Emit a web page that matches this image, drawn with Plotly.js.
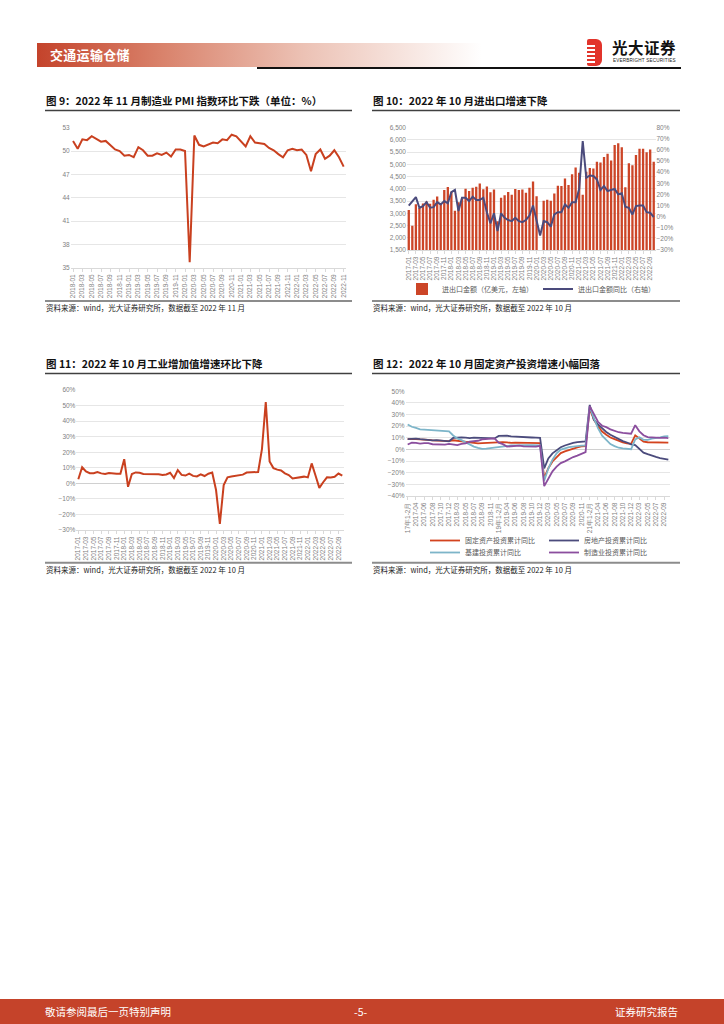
<!DOCTYPE html>
<html>
<head>
<meta charset="utf-8">
<script src="https://cdn.plot.ly/plotly-3.0.1.min.js"></script>
<style>
html,body{margin:0;padding:0;background:#fff;}
#page{position:relative;width:724px;height:1024px;overflow:hidden;font-family:"Noto Sans CJK SC","Noto Sans",sans-serif;background:#fff;}
#chart{position:absolute;left:0;top:0;width:724px;height:1024px;}
#hdrbar{position:absolute;left:37px;top:43px;width:445px;height:24px;background:linear-gradient(to right,#C4432B 0%,#D9826B 28%,#ECC2B5 60%,#FFFFFF 100%);}
#hdrtext{position:absolute;left:50px;top:43px;height:24px;line-height:24px;color:#fff;font-size:13px;font-weight:bold;letter-spacing:0.3px;}
#hdrline{position:absolute;left:257px;top:67px;width:424px;height:1.5px;background:#111;}
#logo{position:absolute;left:587px;top:39px;width:15px;height:27px;background:#E2342B;border-radius:2px 6px 6px 2px;overflow:hidden;}
.stripe{position:absolute;left:0;width:8px;height:1.6px;background:#fff;}
#logocn{position:absolute;left:612px;top:39px;height:17px;line-height:17px;font-size:15.5px;font-weight:bold;color:#111;letter-spacing:0.5px;}
#logoen{position:absolute;left:613px;top:58px;height:6px;line-height:6px;font-family:"Liberation Sans",Arial,sans-serif;font-size:4.6px;color:#222;letter-spacing:0.2px;}
#ftr{position:absolute;left:0;top:999px;width:724px;height:25px;background:#C5432A;color:#fff;font-size:10.5px;}
#ftr span{position:absolute;top:0;line-height:25px;}
</style>
</head>
<body>
<div id="page">
  <div id="chart"></div>
  <div id="hdrbar"></div>
  <div id="hdrtext">交通运输仓储</div>
  <div id="hdrline"></div>
  <div id="logo">
    <div class="stripe" style="top:6px"></div>
    <div class="stripe" style="top:10px"></div>
    <div class="stripe" style="top:14px"></div>
    <div class="stripe" style="top:18px"></div>
    <div class="stripe" style="top:22px"></div>
  </div>
  <div id="logocn">光大证券</div>
  <div id="logoen">EVERBRIGHT SECURITIES</div>
  <div id="ftr">
    <span style="left:45px">敬请参阅最后一页特别声明</span>
    <span style="left:354px">-5-</span>
    <span style="right:46px">证券研究报告</span>
  </div>
</div>
<script>
// ---------- Chart 9: manufacturing PMI ----------
const pmiMonths = [
"2018-01","2018-02","2018-03","2018-04","2018-05","2018-06","2018-07","2018-08","2018-09","2018-10","2018-11","2018-12",
"2019-01","2019-02","2019-03","2019-04","2019-05","2019-06","2019-07","2019-08","2019-09","2019-10","2019-11","2019-12",
"2020-01","2020-02","2020-03","2020-04","2020-05","2020-06","2020-07","2020-08","2020-09","2020-10","2020-11","2020-12",
"2021-01","2021-02","2021-03","2021-04","2021-05","2021-06","2021-07","2021-08","2021-09","2021-10","2021-11","2021-12",
"2022-01","2022-02","2022-03","2022-04","2022-05","2022-06","2022-07","2022-08","2022-09","2022-10","2022-11"];
const pmiValues = [
51.3,50.3,51.5,51.4,51.9,51.5,51.2,51.3,50.8,50.2,50.0,49.4,
49.5,49.2,50.5,50.1,49.4,49.4,49.7,49.5,49.8,49.3,50.2,50.2,
50.0,35.7,52.0,50.8,50.6,50.9,51.1,51.0,51.5,51.4,52.1,51.9,
51.3,50.6,51.9,51.1,51.0,50.9,50.4,50.1,49.6,49.2,50.1,50.3,
50.1,50.2,49.5,47.4,49.6,50.2,49.0,49.4,50.1,49.2,48.0];

// ---------- Chart 10: trade ----------
const tradeMonths = [
"2017-01","2017-02","2017-03","2017-04","2017-05","2017-06","2017-07","2017-08","2017-09","2017-10","2017-11","2017-12",
"2018-01","2018-02","2018-03","2018-04","2018-05","2018-06","2018-07","2018-08","2018-09","2018-10","2018-11","2018-12",
"2019-01","2019-02","2019-03","2019-04","2019-05","2019-06","2019-07","2019-08","2019-09","2019-10","2019-11","2019-12",
"2020-01","2020-02","2020-03","2020-04","2020-05","2020-06","2020-07","2020-08","2020-09","2020-10","2020-11","2020-12",
"2021-01","2021-02","2021-03","2021-04","2021-05","2021-06","2021-07","2021-08","2021-09","2021-10","2021-11","2021-12",
"2022-01","2022-02","2022-03","2022-04","2022-05","2022-06","2022-07","2022-08","2022-09","2022-10"];
const tradeAmount = [
3140,2495,3370,3215,3400,3480,3390,3555,3690,3380,3950,4080,
3880,3100,3450,3600,4000,3915,4050,4090,4220,3980,4100,3860,
3970,2680,3640,3740,3870,3760,3990,3950,3970,3840,4050,4300,
3700,null,3510,3550,3510,3810,4130,4120,4420,4160,4600,4870,
4660,3760,4700,4850,4830,5110,5080,5300,5440,5160,5790,5860,
5700,4070,5050,4960,5380,5640,5640,5500,5610,5110];
const tradeYoY = [
10,14,17.5,8,9.5,13,8,8.5,13,11,14,12,
22,24,5,17,17,14,18,15,15,17,4,-6,
3,-13,3,-1,-3,-4,-1,-4,-5,-3,1,10,
-5,-17,-4,-5,-9,2,4,4,11,8,13,13,
25,68,35,37,36.5,33.5,24,27.5,23,24,25,20,
21,9,8,2,9.5,10,10,4,3.5,-0.5];

// ---------- Chart 11: industrial value added ----------
const ivaMonths = tradeMonths;
const ivaYoY = [
2.6,10.3,7.6,6.5,6.5,7.2,6.4,6.0,6.6,6.2,6.1,6.2,
15.5,-2.2,6.0,7.0,6.8,6.0,6.0,6.1,5.8,5.9,5.4,5.7,
6.8,3.4,8.5,5.4,5.0,6.3,4.8,4.4,5.8,4.7,6.2,6.9,
-4.3,-26.0,-1.1,3.9,4.4,4.8,4.8,5.6,6.9,6.9,7.0,7.3,
22.0,52.3,14.1,9.8,8.8,8.3,6.4,5.3,3.1,3.5,3.8,4.3,
3.8,12.8,5.0,-2.9,0.7,3.9,3.8,4.2,6.3,5.0];

// ---------- Chart 12: fixed asset investment ----------
const faiPeriods = [
"17年1-2月","2017-03","2017-04","2017-05","2017-06","2017-07","2017-08","2017-09","2017-10","2017-11","2017-12",
"18年1-2月","2018-03","2018-04","2018-05","2018-06","2018-07","2018-08","2018-09","2018-10","2018-11","2018-12",
"19年1-2月","2019-03","2019-04","2019-05","2019-06","2019-07","2019-08","2019-09","2019-10","2019-11","2019-12",
"20年1-2月","2020-03","2020-04","2020-05","2020-06","2020-07","2020-08","2020-09","2020-10","2020-11","2020-12",
"21年1-2月","2021-03","2021-04","2021-05","2021-06","2021-07","2021-08","2021-09","2021-10","2021-11","2021-12",
"22年1-2月","2022-03","2022-04","2022-05","2022-06","2022-07","2022-08","2022-09","2022-10"];
const faiTotal = [
8.9,9.2,8.9,8.6,8.6,8.3,7.8,7.5,7.3,7.2,7.2,
7.9,7.5,7.0,6.1,6.0,5.5,5.3,5.4,5.7,5.9,5.9,
6.1,6.3,6.1,5.6,5.8,5.7,5.5,5.4,5.2,5.2,5.4,
-24.5,-16.1,-10.3,-6.3,-3.1,-1.6,-0.3,0.8,1.8,2.6,2.9,
35.0,25.6,19.9,15.4,12.6,10.3,8.9,7.3,6.1,5.2,4.9,
12.2,9.3,6.8,6.2,6.1,5.7,5.8,5.9,5.8];
const faiRealEstate = [
8.9,9.1,9.3,8.8,8.5,7.9,7.9,8.1,7.8,7.5,7.0,
9.9,10.4,10.3,10.2,9.7,10.2,10.1,9.9,9.7,9.7,9.5,
11.6,11.8,11.9,11.2,10.9,10.6,10.5,10.5,10.3,10.2,9.9,
-16.3,-7.7,-3.3,-0.3,1.9,3.4,4.6,5.6,6.3,6.8,7.0,
38.3,25.6,21.6,18.3,15.0,12.7,10.9,8.8,7.2,6.0,4.4,
3.7,0.7,-2.7,-4.0,-5.4,-6.4,-7.4,-8.0,-8.8];
const faiInfra = [
21.5,19.5,18.5,17.3,17.0,16.8,16.5,16.2,16.0,16.0,15.5,
12.0,9.5,8.0,6.0,4.5,2.5,1.3,0.5,0.8,1.3,1.8,
2.5,3.0,3.3,3.5,3.6,3.8,3.8,3.8,3.7,3.6,3.5,
-26.9,-16.4,-8.8,-3.3,-0.1,1.2,2.0,2.4,3.0,3.3,3.4,
36.6,26.8,18.4,11.8,7.8,4.6,2.9,1.5,1.0,0.5,0.2,
8.6,10.5,8.3,8.2,9.3,9.6,10.4,11.2,11.4];
const faiManufacturing = [
4.3,5.8,5.6,5.1,5.5,5.5,4.5,4.2,4.1,4.1,4.8,
4.3,3.8,4.8,5.2,6.8,7.3,7.5,8.7,9.1,9.5,9.5,
5.9,4.6,2.5,2.7,3.0,3.3,2.6,2.5,2.6,2.5,3.1,
-31.5,-25.2,-18.8,-14.8,-11.7,-10.2,-8.1,-6.5,-5.3,-3.5,-2.2,
37.3,29.8,23.8,20.4,19.2,17.3,15.7,14.8,14.2,13.7,13.5,
20.9,15.6,12.2,10.6,10.4,9.9,10.0,10.1,9.7];

// ---------- styling ----------
const RED = '#C9401F', NAVY = '#4B4B7C', LBLUE = '#7DB5C9', PURPLE = '#8B4E9E';
const tickFont = {family:'Liberation Sans, Arial, sans-serif', size:6.5, color:'#7f7f7f'};
const W = 724, H = 1024;
const px = v => v / W;
const py = v => 1 - v / H;

function catAxis(cats, x0, x1, anchor) {
  return {
    domain:[px(x0), px(x1)], anchor, type:'category',
    range:[-0.5, cats.length - 0.5],
    tickmode:'array',
    tickvals: cats.filter((c, i) => i % 2 === 0),
    ticktext: cats.filter((c, i) => i % 2 === 0),
    tickangle:-90, tickfont:tickFont,
    showgrid:false, showline:true, linecolor:'#d9d9d9', linewidth:1,
    ticks:'outside', ticklen:3, tickcolor:'#d9d9d9',
    automargin:false, fixedrange:true
  };
}
function valAxis(y0, y1, anchor, range, dtick, extra) {
  return Object.assign({
    domain:[py(y1), py(y0)], anchor, range, dtick, tick0:range[0],
    tickfont:tickFont, showgrid:true, gridcolor:'#e6e6e6', gridwidth:1,
    zeroline:false, showline:false, ticks:'', automargin:false, fixedrange:true
  }, extra || {});
}

const traces = [
  {type:'scatter', mode:'lines', x:pmiMonths, y:pmiValues, xaxis:'x', yaxis:'y',
   line:{color:RED, width:2}, showlegend:false, name:'制造业PMI'},
  {type:'bar', x:tradeMonths, y:tradeAmount, xaxis:'x2', yaxis:'y2',
   marker:{color:'#CC4527'}, name:'进出口金额（亿美元，左轴）', legend:'legend'},
  {type:'scatter', mode:'lines', x:tradeMonths, y:tradeYoY, xaxis:'x2', yaxis:'y3',
   line:{color:NAVY, width:2}, name:'进出口金额同比（右轴）', legend:'legend'},
  {type:'scatter', mode:'lines', x:ivaMonths, y:ivaYoY, xaxis:'x3', yaxis:'y4',
   line:{color:RED, width:2}, showlegend:false, name:'工业增加值同比'},
  {type:'scatter', mode:'lines', x:faiPeriods, y:faiTotal, xaxis:'x4', yaxis:'y5',
   line:{color:'#D3431E', width:1.8}, name:'固定资产投资累计同比', legend:'legend2'},
  {type:'scatter', mode:'lines', x:faiPeriods, y:faiRealEstate, xaxis:'x4', yaxis:'y5',
   line:{color:NAVY, width:1.8}, name:'房地产投资累计同比', legend:'legend2'},
  {type:'scatter', mode:'lines', x:faiPeriods, y:faiInfra, xaxis:'x4', yaxis:'y5',
   line:{color:LBLUE, width:1.8}, name:'基建投资累计同比', legend:'legend3'},
  {type:'scatter', mode:'lines', x:faiPeriods, y:faiManufacturing, xaxis:'x4', yaxis:'y5',
   line:{color:PURPLE, width:1.8}, name:'制造业投资累计同比', legend:'legend3'}
];

const titleFont = {family:'Noto Sans CJK SC, sans-serif', size:10.5, color:'#111'};
const srcFont = {family:'Noto Sans CJK SC, sans-serif', size:7.5, color:'#222'};
function textAnn(text, x, y, font) {
  return {text, x:px(x), y:py(y), xref:'paper', yref:'paper', xanchor:'left', yanchor:'middle',
          showarrow:false, font};
}
function hline(x0, x1, y, color, width) {
  return {type:'line', xref:'paper', yref:'paper', x0:px(x0), x1:px(x1), y0:py(y), y1:py(y),
          line:{color, width}};
}
const legendFont = {family:'Noto Sans CJK SC, sans-serif', size:7, color:'#595959'};

const layout = {
  width:W, height:H, margin:{l:0, r:0, t:0, b:0},
  paper_bgcolor:'#fff', plot_bgcolor:'rgba(0,0,0,0)',
  font:{family:'Noto Sans CJK SC, Liberation Sans, sans-serif'},
  bargap:0.35,
  xaxis: catAxis(pmiMonths, 70.7, 346, 'y'),
  yaxis: valAxis(127.7, 267.7, 'x', [35, 53], 3),
  xaxis2: catAxis(tradeMonths, 407, 655.5, 'y2'),
  yaxis2: valAxis(127.7, 250, 'x2', [1500, 6500], 500, {tickformat:',d'}),
  yaxis3: {overlaying:'y2', side:'right', anchor:'x2', range:[-30, 80], dtick:10, tick0:-30,
           ticksuffix:'%', tickfont:tickFont, showgrid:false, zeroline:false, showline:false,
           ticks:'', automargin:false, fixedrange:true},
  xaxis3: catAxis(ivaMonths, 76.4, 344.2, 'y4'),
  yaxis4: valAxis(390, 530, 'x3', [-30, 60], 10, {ticksuffix:'%', zeroline:true, zerolinecolor:'#d0d0d0', zerolinewidth:1}),
  xaxis4: catAxis(faiPeriods, 405.6, 670.4, 'y5'),
  yaxis5: valAxis(391.3, 496, 'x4', [-40, 50], 10, {ticksuffix:'%', zeroline:true, zerolinecolor:'#d0d0d0', zerolinewidth:1}),
  legend: {orientation:'h', x:px(531), xanchor:'center', y:py(289), yanchor:'middle',
           font:legendFont, bgcolor:'rgba(0,0,0,0)', itemwidth:30, tracegroupgap:0},
  legend2: {orientation:'h', x:px(425), xanchor:'left', y:py(540.5), yanchor:'middle',
            font:legendFont, bgcolor:'rgba(0,0,0,0)', itemwidth:30, entrywidth:74},
  legend3: {orientation:'h', x:px(425), xanchor:'left', y:py(552.5), yanchor:'middle',
            font:legendFont, bgcolor:'rgba(0,0,0,0)', itemwidth:30, entrywidth:74},
  annotations: [
    textAnn('<b>图 9：2022 年 11 月制造业 PMI 指数环比下跌（单位：%）</b>', 44, 100, titleFont),
    textAnn('<b>图 10：2022 年 10 月进出口增速下降</b>', 371, 100, titleFont),
    textAnn('<b>图 11：2022 年 10 月工业增加值增速环比下降</b>', 44, 363.5, titleFont),
    textAnn('<b>图 12：2022 年 10 月固定资产投资增速小幅回落</b>', 371, 363.5, titleFont),
    textAnn('资料来源：wind，光大证券研究所，数据截至 2022 年 11 月', 44, 307, srcFont),
    textAnn('资料来源：wind，光大证券研究所，数据截至 2022 年 10 月', 371, 307, srcFont),
    textAnn('资料来源：wind，光大证券研究所，数据截至 2022 年 10 月', 44, 569, srcFont),
    textAnn('资料来源：wind，光大证券研究所，数据截至 2022 年 10 月', 371, 569, srcFont)
  ],
  shapes: [
    hline(45, 352, 110.5, '#404040', 1.5),
    hline(372, 680, 110.5, '#404040', 1.5),
    hline(45, 352, 373.5, '#404040', 1.5),
    hline(372, 680, 373.5, '#404040', 1.5),
    hline(45, 352, 301, '#8c8c8c', 2),
    hline(372, 680, 301, '#8c8c8c', 2),
    hline(45, 352, 562.7, '#8c8c8c', 2),
    hline(372, 680, 562.7, '#8c8c8c', 2)
  ]
};

Plotly.newPlot('chart', traces, layout, {displayModeBar:false, staticPlot:true});
</script>
</body>
</html>
